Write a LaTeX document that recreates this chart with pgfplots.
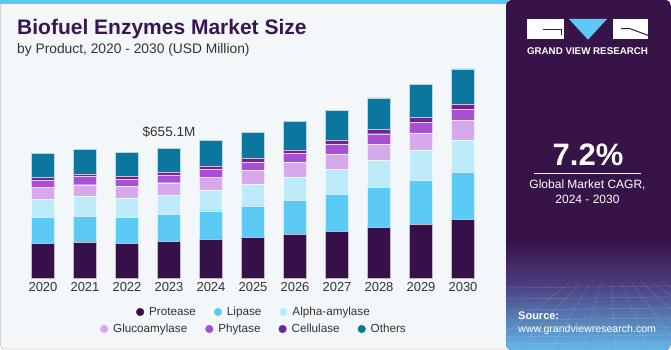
\documentclass[border=0pt]{standalone}
\usepackage{pgfplots}
\pgfplotsset{compat=1.18}
\usepackage{pgfplotstable}
\usepackage{fontspec}
\setmainfont{Liberation Sans}
\definecolor{cP}{HTML}{361048}
\definecolor{cL}{HTML}{5BCBF5}
\definecolor{cA}{HTML}{BDEBFA}
\definecolor{cG}{HTML}{D5A9EC}
\definecolor{cPh}{HTML}{A84FD6}
\definecolor{cC}{HTML}{6E2397}
\definecolor{cO}{HTML}{0C779E}
\definecolor{panel}{HTML}{371447}
\definecolor{bgc}{HTML}{F3F7FA}
\definecolor{titlec}{HTML}{3A1550}
\definecolor{txt}{HTML}{333333}
\definecolor{glowtop}{HTML}{4B3B7C}
\definecolor{glowbot}{HTML}{62B8E8}
\definecolor{skyb}{HTML}{5BC8F5}

\pgfplotstableread{
year P L A G Ph C O
2020 175 129 92 60 37 13 123
2021 180 131 99 60 42 13 123
2022 176 131 94 60 37 13 121
2023 183 138 97 62 39 13 123
2024 193 146 102 66 40 17 128
2025 205 158 109 71 42 17 133
2026 220 171 118 74 45 17 143
2027 235 185 128 77 49 20 150
2028 254 203 136 82 52 22 158
2029 272 220 150 89 54 24 168
2030 296 239 160 99 55 27 178
}\datatable

\begin{document}
\begin{tikzpicture}
\useasboundingbox (0pt,0pt) rectangle (671pt,350pt);
\begin{scope}[x=1pt,y=1pt]
\fill[white] (0,0) rectangle (671,350);
\fill[bgc, draw=gray!35, line width=0.8pt, rounded corners=4pt] (0.5,1) rectangle (512,349.5);
\fill[skyb] (0,345.5) rectangle (508,350);
% right panel
\begin{scope}
\clip[rounded corners=6pt] (506,0) rectangle (671,350);
\fill[panel] (506,0) rectangle (671,350);
\shade[top color=panel, bottom color=glowtop] (506,67) rectangle (671,110);
\shade[top color=glowtop, bottom color=glowbot] (506,0) rectangle (671,67);
\foreach \yy in {6,13,21,30,40,51,62} {\draw[white, opacity=0.18, line width=0.5pt] (506,\yy) -- (671,\yy+2);}
\foreach \xx in {-60,-30,0,30,60,90,120,150,180,210,240} {\draw[white, opacity=0.15, line width=0.5pt] (590+\xx*0.35,67) -- (590+\xx*1.1-40,0);}
\end{scope}
% logo
\fill[white] (527,311) rectangle (564,331);
\draw[panel, line width=1pt] (543,320) -- (561,320) -- (561,315);
\fill[skyb] (569,331) -- (607,331) -- (588,310.3) -- cycle;
\fill[white] (613,311) rectangle (648,331);
\draw[panel, line width=1pt] (621,321.3) -- (630,321.3) -- (648,314.7);
\node[anchor=base, white, inner sep=0pt] at (587.5,295.3) {\resizebox{121pt}{!}{\fontsize{9.3}{10}\selectfont\bfseries GRAND VIEW RESEARCH}};
% CAGR
\node[anchor=base, white, inner sep=0pt, font=\fontsize{31}{34}\selectfont\bfseries] at (588,184.3) {7.2\%};
\draw[white, line width=0.8pt] (534,176.3) -- (641,176.3);
\node[anchor=base, white, inner sep=0pt, font=\fontsize{12}{14}\selectfont] at (587.5,161) {Global Market CAGR,};
\node[anchor=base, white, inner sep=0pt, font=\fontsize{12}{14}\selectfont] at (587.5,146) {2024 - 2030};
\node[anchor=base west, white, inner sep=0pt, font=\fontsize{11}{13}\selectfont\bfseries] at (518,30) {Source:};
\node[anchor=base west, white, inner sep=0pt, font=\fontsize{10.6}{12}\selectfont] at (518,17) {www.grandviewresearch.com};
% titles
\node[anchor=base west, inner sep=0pt, text=titlec, font=\fontsize{21}{24}\selectfont\bfseries] at (17,315) {Biofuel Enzymes Market Size};
\node[anchor=base west, inner sep=0pt, text=txt, font=\fontsize{13.8}{16}\selectfont] at (17,296) {by Product, 2020 - 2030 (USD Million)};
\end{scope}

\begin{axis}[
  at={(1pt,72pt)}, anchor=south west, scale only axis,
  width=504pt, height=218.3pt,
  xmin=2019, xmax=2031, ymin=0, ymax=1100,
  axis line style={draw=none}, major tick length=0pt,
  ytick=\empty,
  xtick={2020,2021,2022,2023,2024,2025,2026,2027,2028,2029,2030},
  xticklabels={2020,2021,2022,2023,2024,2025,2026,2027,2028,2029,2030},
  xticklabel style={font=\fontsize{13}{15}\selectfont, text=txt, inner sep=0pt, anchor=north, yshift=-4.4pt},
  ybar stacked, bar width=23pt,
  clip=false,
]
\addplot[fill=cP, draw=white!70!cP, line width=0.4pt] table[x=year,y=P]{\datatable};
\addplot[fill=cL, draw=white!70!cL, line width=0.4pt] table[x=year,y=L]{\datatable};
\addplot[fill=cA, draw=white!70!cA, line width=0.4pt] table[x=year,y=A]{\datatable};
\addplot[fill=cG, draw=white!70!cG, line width=0.4pt] table[x=year,y=G]{\datatable};
\addplot[fill=cPh, draw=white!70!cPh, line width=0.4pt] table[x=year,y=Ph]{\datatable};
\addplot[fill=cC, draw=white!70!cC, line width=0.4pt] table[x=year,y=C]{\datatable};
\addplot[fill=cO, draw=white!70!cO, line width=0.4pt] table[x=year,y=O]{\datatable};
\node[anchor=south, inner sep=0pt, text=txt, font=\fontsize{13.5}{15}\selectfont] at (axis cs:2023,655.1) [yshift=10pt] {\$655.1M};
\end{axis}

\begin{axis}[
  at={(254pt,38pt)}, anchor=center, hide axis, scale only axis,
  width=10pt, height=10pt, xmin=0, xmax=1, ymin=0, ymax=1,
  legend columns=3,
  legend style={at={(0.5,0.5)}, anchor=center, draw=none, fill=none,
    font=\fontsize{11.7}{13}\selectfont, text=txt,
    /tikz/every odd column/.append style={column sep=3pt},
    /tikz/every even column/.append style={column sep=16pt}},
  legend image code/.code={\fill[#1] (0pt,0pt) circle (3.8pt);},
]
\addlegendimage{cP}\addlegendentry{Protease}
\addlegendimage{cL}\addlegendentry{Lipase}
\addlegendimage{cA}\addlegendentry{Alpha-amylase}
\end{axis}
\begin{axis}[
  at={(254pt,21pt)}, anchor=center, hide axis, scale only axis,
  width=10pt, height=10pt, xmin=0, xmax=1, ymin=0, ymax=1,
  legend columns=4,
  legend style={at={(0.5,0.5)}, anchor=center, draw=none, fill=none,
    font=\fontsize{11.7}{13}\selectfont, text=txt,
    /tikz/every odd column/.append style={column sep=3pt},
    /tikz/every even column/.append style={column sep=16pt}},
  legend image code/.code={\fill[#1] (0pt,0pt) circle (3.8pt);},
]
\addlegendimage{cG}\addlegendentry{Glucoamylase}
\addlegendimage{cPh}\addlegendentry{Phytase}
\addlegendimage{cC}\addlegendentry{Cellulase}
\addlegendimage{cO}\addlegendentry{Others}
\end{axis}
\end{tikzpicture}
\end{document}
